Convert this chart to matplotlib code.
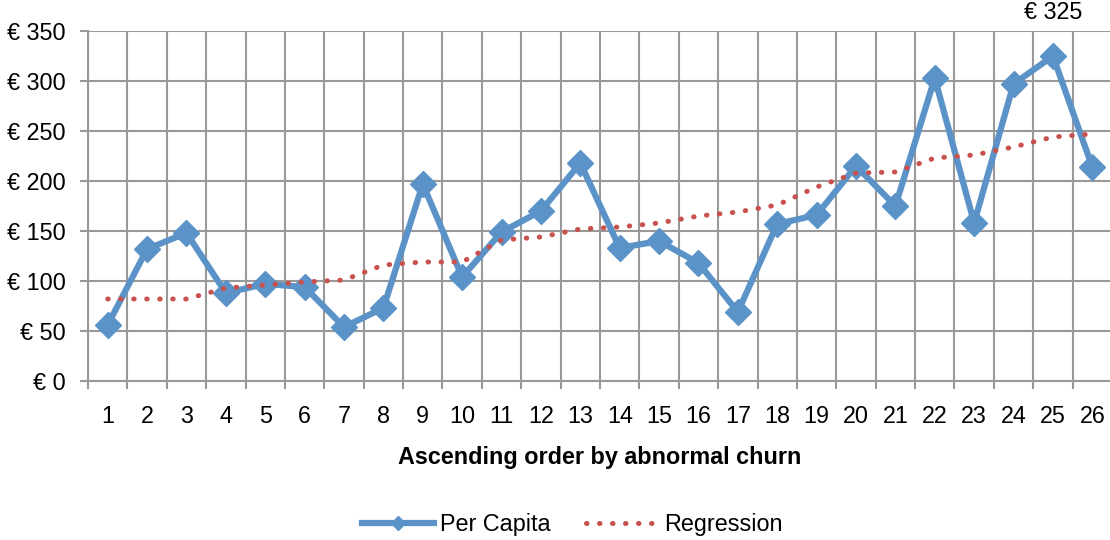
import numpy as np
import matplotlib.pyplot as plt
from matplotlib.lines import Line2D

plt.rcParams['font.family'] = ['Liberation Sans', 'DejaVu Sans']

positions = list(range(1, 27))
per_capita = [56, 132, 148, 88, 97, 94, 54, 73, 197, 104, 149, 170, 218, 133, 140,
              118, 69, 157, 166, 215, 175, 303, 158, 297, 325, 214]
regression = [82, 82, 82, 93, 96, 99, 101, 116, 119, 119, 141, 144, 152, 154, 158,
              165, 169, 176, 194, 208, 209, 223, 226, 234, 244, 247]
y_ticks = [0, 50, 100, 150, 200, 250, 300, 350]

blue = '#5B93C8'
red = '#C9514D'
grid_col = '#999999'
fs = 16.8

fig = plt.figure(figsize=(11.1, 5.4), dpi=100)
ax = fig.add_axes([88 / 1110, 159 / 540, 1024 / 1110, 350 / 540])

ax.plot(positions, per_capita, color=blue, lw=4.5, marker='D', ms=13, zorder=3)
reg_style = dict(color=red, lw=3.6, linestyle=(0, (0.1, 2.5)), dash_capstyle='round')
ax.plot(positions, regression, zorder=4, **reg_style)

ax.set_xlim(0.5, 26.5)
ax.set_ylim(0, 350)
ax.set_yticks(y_ticks)
ax.set_yticklabels([f'€ {v}' for v in y_ticks])
ax.set_xticks(positions)
ax.set_xticklabels([str(p) for p in positions])
ax.set_xticks(np.arange(0.5, 27, 1), minor=True)

ax.grid(True, which='major', axis='y', color=grid_col, lw=1.5)
ax.grid(True, which='minor', axis='x', color=grid_col, lw=1.5)
ax.set_axisbelow(True)
ax.tick_params(axis='x', which='major', length=0, labelsize=fs, pad=17)
ax.tick_params(axis='x', which='minor', length=6, color=grid_col, width=1.5)
ax.tick_params(axis='y', length=6, color=grid_col, width=1.5, labelsize=fs, pad=10)
for s in ['top', 'right']:
    ax.spines[s].set_visible(False)
for s in ['left', 'bottom']:
    ax.spines[s].set_color(grid_col)
    ax.spines[s].set_linewidth(1.5)

ax.set_xlabel('Ascending order by abnormal churn', fontsize=fs, fontweight='bold',
              labelpad=13)

i_max = int(np.argmax(per_capita))
ax.annotate(f'€ {per_capita[i_max]}', (positions[i_max], per_capita[i_max]),
            xytext=(0, 31), textcoords='offset points', ha='center', va='center',
            fontsize=fs, annotation_clip=False)

handles = [Line2D([], [], color=blue, lw=4.5, marker='D', ms=7),
           Line2D([], [], **reg_style)]
fig.legend(handles, ['Per Capita', 'Regression'], loc='center',
           bbox_to_anchor=(572 / 1110, 1 - 525 / 540), ncol=2, frameon=False,
           fontsize=fs, handlelength=3.1, columnspacing=1.5, handletextpad=0.25)

fig.savefig('out.png', dpi=100)
